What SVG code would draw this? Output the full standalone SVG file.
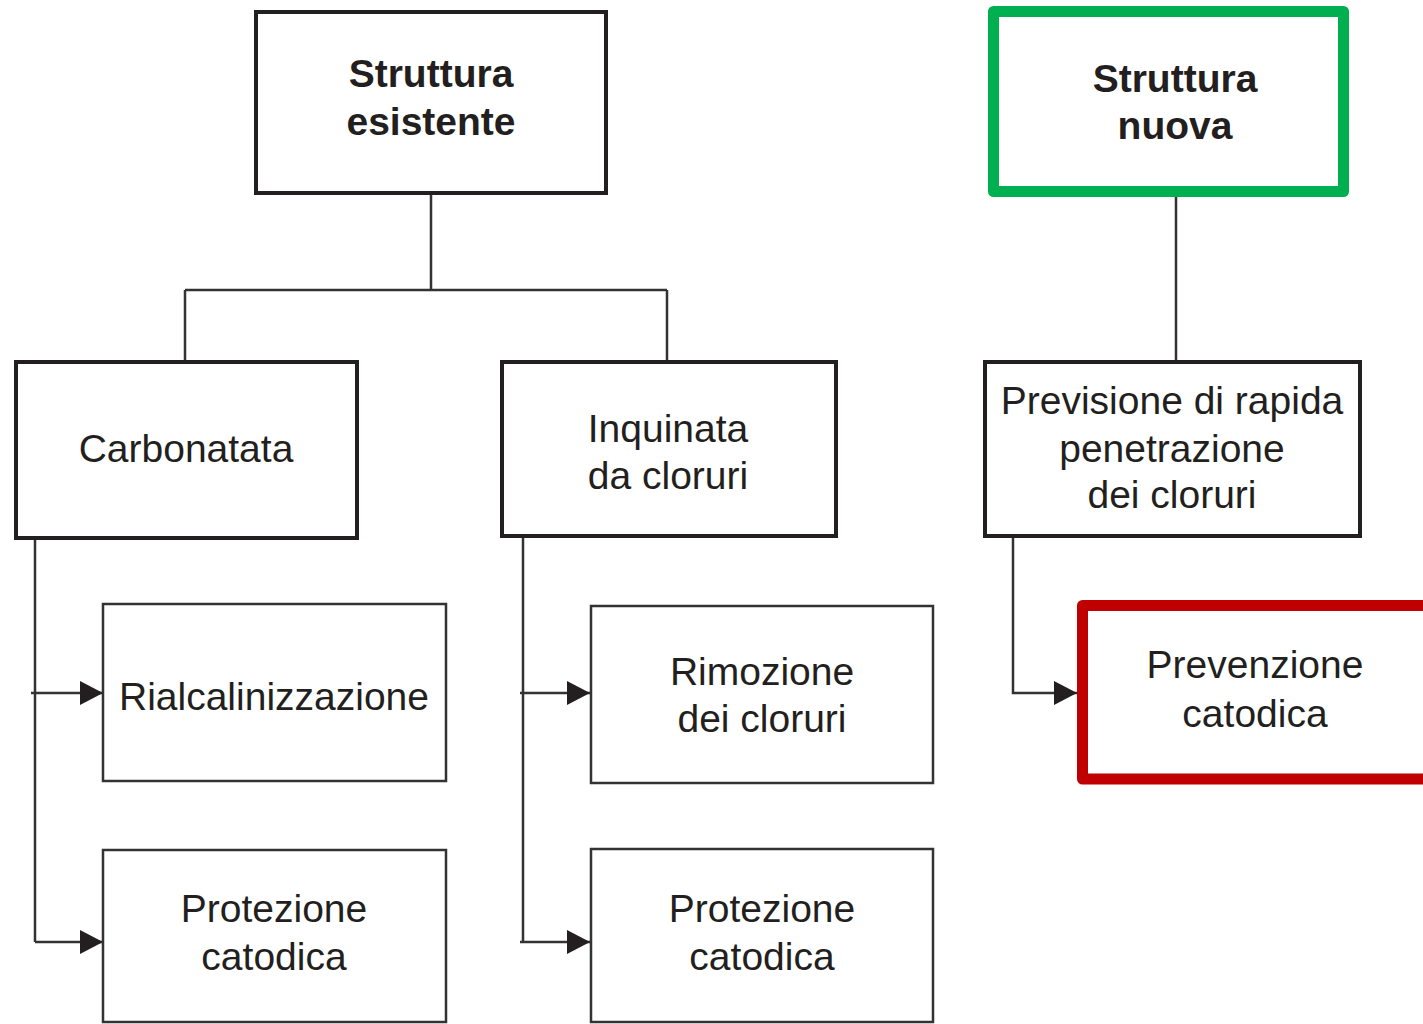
<svg xmlns="http://www.w3.org/2000/svg" width="1423" height="1024" viewBox="0 0 1423 1024">
<defs>
<style>
.bg{fill:#ffffff}
.main{fill:#ffffff;stroke:#231f20;stroke-width:4}
.sub{fill:#ffffff;stroke:#333333;stroke-width:2.5}
.green{fill:#ffffff;stroke:#00b050;stroke-width:11;stroke-linejoin:round}
.red{fill:#ffffff;stroke:#c00000;stroke-width:11;stroke-linejoin:round}
.t{font-family:"Liberation Sans",Arial,sans-serif;font-size:39px;fill:#231f20;text-anchor:middle}
.b{font-weight:bold}
.ln{fill:none;stroke:#333333;stroke-width:2.5}
</style>
<marker id="arr" markerWidth="24" markerHeight="26" refX="23" refY="12" orient="auto" markerUnits="userSpaceOnUse">
<path d="M0,0 L23,12 L0,24 Z" fill="#231f20"/>
</marker>
</defs>
<rect class="bg" x="0" y="0" width="1423" height="1024"/>
<g id="connectors">
<path class="ln" d="M431,193 V290 M185,290 H667 M185,290 V362 M667,290 V362"/>
<path class="ln" d="M1176,192 V361"/>
<path class="ln" d="M35,538 V942"/>
<path class="ln" d="M31,693 H103" marker-end="url(#arr)"/>
<path class="ln" d="M35,942 H103" marker-end="url(#arr)"/>
<path class="ln" d="M523,536 V942"/>
<path class="ln" d="M520,693 H590" marker-end="url(#arr)"/>
<path class="ln" d="M520,942 H590" marker-end="url(#arr)"/>
<path class="ln" d="M1013,537 V693 H1077" marker-end="url(#arr)"/>
</g>
<g id="n-esistente">
<rect class="main" x="256" y="12" width="350" height="181"/>
<text class="t b" x="431" y="87">Struttura</text>
<text class="t b" x="431" y="135">esistente</text>
</g>
<g id="n-nuova">
<rect class="green" x="993.5" y="11.5" width="350" height="180"/>
<text class="t b" x="1175" y="92">Struttura</text>
<text class="t b" x="1175" y="139">nuova</text>
</g>
<g id="n-carbonatata">
<rect class="main" x="16" y="362" width="341" height="176"/>
<text class="t" x="186" y="462">Carbonatata</text>
</g>
<g id="n-inquinata">
<rect class="main" x="502" y="362" width="334" height="174"/>
<text class="t" x="668" y="442">Inquinata</text>
<text class="t" x="668" y="489">da cloruri</text>
</g>
<g id="n-previsione">
<rect class="main" x="985" y="362" width="375" height="174"/>
<text class="t" x="1172" y="414">Previsione di rapida</text>
<text class="t" x="1172" y="462">penetrazione</text>
<text class="t" x="1172" y="508">dei cloruri</text>
</g>
<g id="n-rialcalinizzazione">
<rect class="sub" x="103" y="604" width="343" height="177"/>
<text class="t" x="274" y="710">Rialcalinizzazione</text>
</g>
<g id="n-protezione1">
<rect class="sub" x="103" y="850" width="343" height="172"/>
<text class="t" x="274" y="922">Protezione</text>
<text class="t" x="274" y="970">catodica</text>
</g>
<g id="n-rimozione">
<rect class="sub" x="591" y="606" width="342" height="177"/>
<text class="t" x="762" y="685">Rimozione</text>
<text class="t" x="762" y="732">dei cloruri</text>
</g>
<g id="n-protezione2">
<rect class="sub" x="591" y="849" width="342" height="173"/>
<text class="t" x="762" y="922">Protezione</text>
<text class="t" x="762" y="970">catodica</text>
</g>
<g id="n-prevenzione">
<rect class="red" x="1082.5" y="605.5" width="350" height="173.5"/>
<text class="t" x="1255" y="678">Prevenzione</text>
<text class="t" x="1255" y="727">catodica</text>
</g>
</svg>
